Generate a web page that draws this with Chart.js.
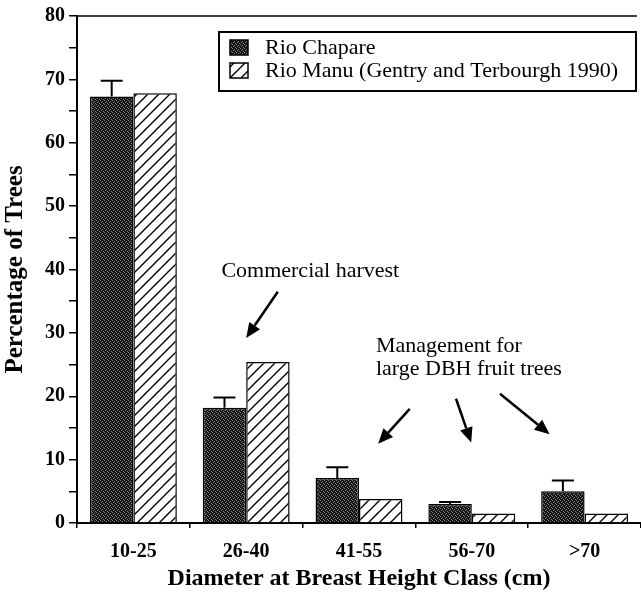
<!DOCTYPE html>
<html>
<head>
<meta charset="utf-8">
<script src="https://cdn.jsdelivr.net/npm/chart.js@4.4.0/dist/chart.umd.min.js"></script>
<style>
  html, body { margin: 0; padding: 0; background: #fff; }
</style>
</head>
<body>
<canvas id="myChart" width="641" height="600"></canvas>
<script>
const classes = ['10-25', '26-40', '41-55', '56-70', '>70'];
const chapare = [67.3, 18.2, 7.1, 3.0, 5.0];
const chapareErr = [2.5, 1.6, 1.7, 0.3, 1.7];
const manu = [67.8, 25.4, 3.8, 1.5, 1.5];
const seriesNames = ['Rio Chapare', 'Rio Manu (Gentry and Terbourgh 1990)'];

// annotation anchors in data units (category index, percent)
const notes = [
    { lines: ['Commercial harvest'], x: 0.78, y: 39.7 },
    { lines: ['Management for', 'large DBH fruit trees'], x: 2.15, y: 27.9 }
];
const arrows = [
    [1.28, 36.5, 1.0, 29.2],
    [2.45, 18.0, 2.17, 12.5],
    [2.86, 19.6, 2.995, 12.7],
    [3.25, 20.4, 3.69, 14.0]
];

const serif = "'Liberation Serif', 'Times New Roman', serif";

function stipple() {
    const c = document.createElement('canvas');
    c.width = 4; c.height = 4;
    const g = c.getContext('2d');
    g.fillStyle = '#151515';
    g.fillRect(0, 0, 4, 4);
    g.fillStyle = '#808080';
    [[0, 0], [2, 1], [1, 2], [3, 3]].forEach(p => g.fillRect(p[0], p[1], 1, 1));
    return g.createPattern(c, 'repeat');
}

function hatch() {
    const s = 11;
    const c = document.createElement('canvas');
    c.width = s; c.height = s;
    const g = c.getContext('2d');
    g.fillStyle = '#fff';
    g.fillRect(0, 0, s, s);
    g.strokeStyle = '#000';
    g.lineWidth = 1.4;
    g.beginPath();
    g.moveTo(-1, s + 1); g.lineTo(s + 1, -1);
    g.moveTo(-s / 2, s / 2); g.lineTo(s / 2, -s / 2);
    g.moveTo(s / 2, s * 1.5); g.lineTo(s * 1.5, s / 2);
    g.stroke();
    return g.createPattern(c, 'repeat');
}

const darkFill = stipple();
const hatchFill = hatch();

function drawArrow(ctx, x1, y1, x2, y2) {
    const a = Math.atan2(y2 - y1, x2 - x1);
    const len = 15, wid = 6.5;
    const bx = x2 - len * Math.cos(a), by = y2 - len * Math.sin(a);
    ctx.beginPath();
    ctx.moveTo(x1, y1);
    ctx.lineTo(bx, by);
    ctx.stroke();
    ctx.beginPath();
    ctx.moveTo(x2, y2);
    ctx.lineTo(bx + wid * Math.sin(a), by - wid * Math.cos(a));
    ctx.lineTo(bx - wid * Math.sin(a), by + wid * Math.cos(a));
    ctx.closePath();
    ctx.fill();
}

const extras = {
    id: 'extras',
    afterDatasetsDraw(chart) {
        const ctx = chart.ctx;
        const xs = chart.scales.x, ys = chart.scales.y;
        const area = chart.chartArea;
        ctx.save();
        ctx.strokeStyle = '#000';
        ctx.fillStyle = '#000';

        // top frame line
        ctx.lineWidth = 1.5;
        ctx.beginPath();
        ctx.moveTo(area.left, area.top);
        ctx.lineTo(area.right - 4, area.top);
        ctx.stroke();

        // upper error bars for Rio Chapare
        ctx.lineWidth = 2;
        chart.getDatasetMeta(0).data.forEach((bar, i) => {
            const yTop = ys.getPixelForValue(chapare[i] + chapareErr[i]);
            ctx.beginPath();
            ctx.moveTo(bar.x, bar.y);
            ctx.lineTo(bar.x, yTop);
            ctx.moveTo(bar.x - 11, yTop);
            ctx.lineTo(bar.x + 11, yTop);
            ctx.stroke();
        });

        // annotations
        ctx.font = '22px ' + serif;
        ctx.textBaseline = 'middle';
        ctx.textAlign = 'left';
        notes.forEach(n => {
            const px = xs.getPixelForValue(n.x);
            const py = ys.getPixelForValue(n.y);
            n.lines.forEach((t, k) => ctx.fillText(t, px, py + k * 23));
        });
        ctx.lineWidth = 2.5;
        arrows.forEach(a => {
            drawArrow(ctx, xs.getPixelForValue(a[0]), ys.getPixelForValue(a[1]),
                xs.getPixelForValue(a[2]), ys.getPixelForValue(a[3]));
        });

        // legend box
        const bw = 417, bh = 59;
        const bx = area.right - 5 - bw, by = area.top + 16;
        ctx.fillStyle = '#fff';
        ctx.fillRect(bx, by, bw, bh);
        ctx.lineWidth = 2;
        ctx.strokeRect(bx, by, bw, bh);
        const fills = [darkFill, hatchFill];
        seriesNames.forEach((name, i) => {
            const ry = by + 8 + i * 23;
            ctx.fillStyle = fills[i];
            ctx.fillRect(bx + 11, ry, 18, 15);
            ctx.lineWidth = 1.5;
            ctx.strokeRect(bx + 11, ry, 18, 15);
            ctx.fillStyle = '#000';
            ctx.font = '22px ' + serif;
            ctx.fillText(name, bx + 46, ry + 8);
        });
        ctx.restore();
    }
};

const ctx = document.getElementById('myChart').getContext('2d');
const myChart = new Chart(ctx, {
    type: 'bar',
    data: {
        labels: classes,
        datasets: [{
            label: seriesNames[0],
            data: chapare,
            backgroundColor: darkFill,
            borderColor: '#000',
            borderWidth: 1.5
        }, {
            label: seriesNames[1],
            data: manu,
            backgroundColor: hatchFill,
            borderColor: '#000',
            borderWidth: 1.5
        }]
    },
    options: {
        responsive: false,
        animation: false,
        layout: { padding: { top: 13, right: 0, left: 0, bottom: 0 } },
        datasets: {
            bar: { categoryPercentage: 0.77, barPercentage: 1 }
        },
        plugins: {
            legend: { display: false },
            tooltip: { enabled: false }
        },
        scales: {
            x: {
                afterFit(scale) { scale.height = 77; },
                grid: {
                    offset: true,
                    drawOnChartArea: false,
                    drawTicks: true,
                    tickLength: 5,
                    color: '#000',
                    lineWidth: 1.5
                },
                border: { color: '#000', width: 2 },
                ticks: {
                    color: '#000',
                    padding: 12,
                    font: { family: serif, size: 20, weight: 'bold' }
                },
                title: {
                    display: true,
                    text: 'Diameter at Breast Height Class (cm)',
                    color: '#000',
                    padding: { top: 0, bottom: 7 },
                    font: { family: serif, size: 24, weight: 'bold' }
                }
            },
            y: {
                min: 0,
                max: 80,
                afterFit(scale) { scale.width = 77; },
                grid: {
                    drawOnChartArea: false,
                    tickLength: 8,
                    color: '#000',
                    lineWidth: 1.5
                },
                border: { color: '#000', width: 2 },
                ticks: {
                    stepSize: 5,
                    color: '#000',
                    padding: 4,
                    font: { family: serif, size: 20, weight: 'bold' },
                    callback: v => (v % 10 === 0 ? v : '')
                },
                title: {
                    display: true,
                    text: 'Percentage of Trees',
                    color: '#000',
                    padding: { top: 1, bottom: 0 },
                    font: { family: serif, size: 25, weight: 'bold' }
                }
            }
        }
    },
    plugins: [extras]
});
</script>
</body>
</html>
